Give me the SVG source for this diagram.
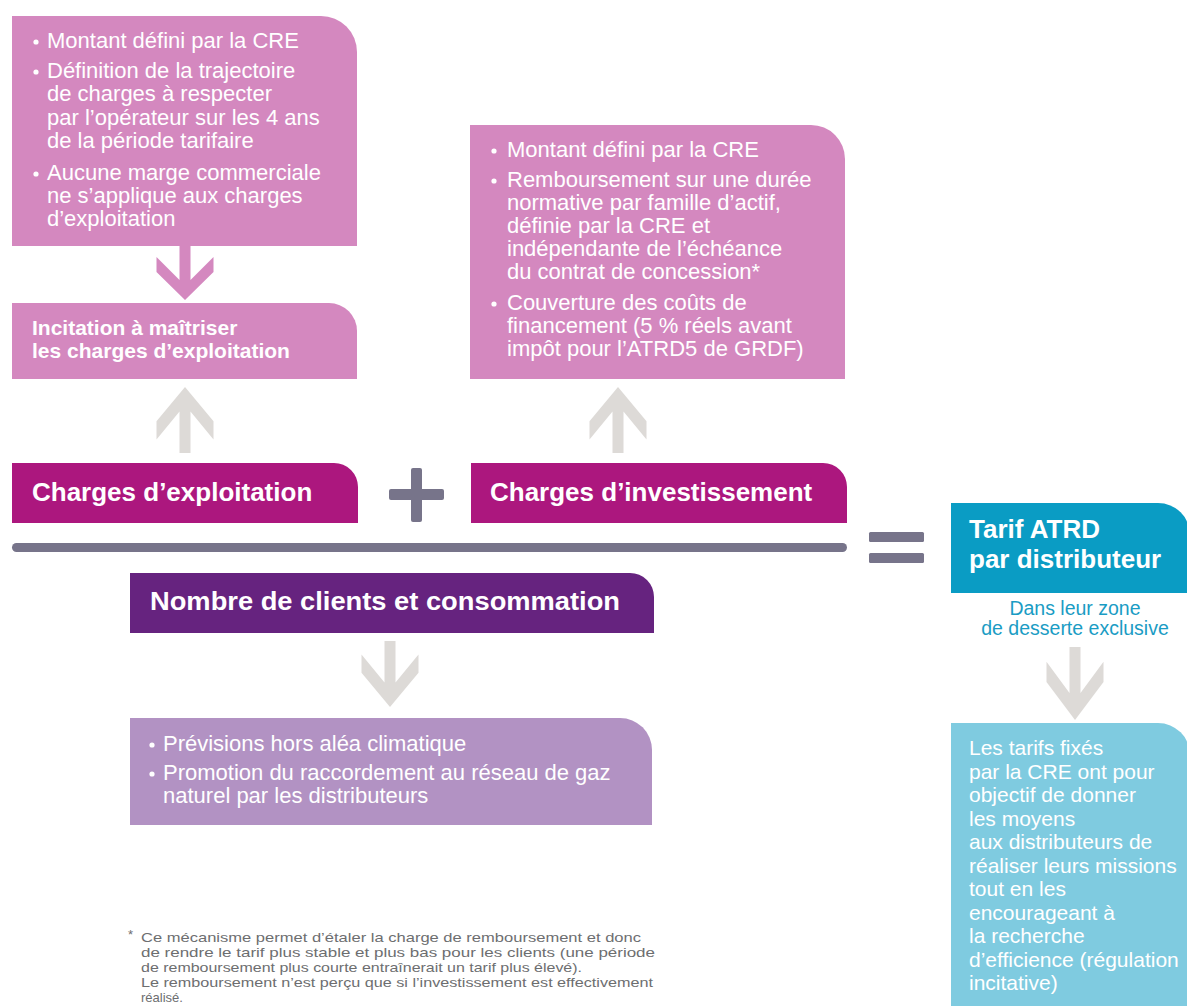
<svg xmlns="http://www.w3.org/2000/svg" width="1187" height="1006" viewBox="0 0 1187 1006">
<style>
text{font-family:"Liberation Sans",Arial,sans-serif;}
.w{fill:#ffffff;}
.body{font-size:22px;fill:#ffffff;}
.title{font-size:26px;font-weight:bold;fill:#ffffff;}
.pink{fill:#D488BF;}
.mag{fill:#AC177E;}
.grey{fill:#DDDAD7;}
.op{fill:#77748A;}
.foot{font-size:13px;fill:#6D6E70;}
</style>
<defs>
<polygon id="arrowDown" points="-5.5,0 5.5,0 5.5,34 28.5,11 28.5,26 0,54 -28.5,26 -28.5,11 -5.5,34"/>
</defs>
<rect width="1187" height="1006" fill="#ffffff"/>

<g id="connectors">
<use href="#arrowDown" class="pink" x="185" y="246"/>
<use href="#arrowDown" class="grey" transform="translate(185,453) scale(1,-1.22)"/>
<use href="#arrowDown" class="grey" transform="translate(618,453) scale(1,-1.22)"/>
<use href="#arrowDown" class="grey" transform="translate(390,641) scale(1,1.22)"/>
<use href="#arrowDown" class="grey" transform="translate(1075,647) scale(1,1.35)"/>
<g id="plus" class="op">
<rect x="389" y="489" width="55" height="11" rx="2"/>
<rect x="411" y="468" width="11" height="54" rx="2"/>
</g>
<rect id="bar" class="op" x="12" y="543" width="835" height="9" rx="4.5"/>
<g id="equals" class="op">
<rect x="869" y="532" width="55" height="10" rx="1.5"/>
<rect x="869" y="553" width="55" height="10" rx="1.5"/>
</g>
</g>

<g id="exploitation-details">
<path class="pink" d="M12,16 H321 A36,36 0 0 1 357,52 V246 H12 Z"/>
<circle class="w" cx="36" cy="42" r="2.6"/>
<circle class="w" cx="36" cy="72" r="2.6"/>
<circle class="w" cx="36" cy="174" r="2.6"/>
<text class="body" x="47" y="48">Montant défini par la CRE</text>
<text class="body" x="47" y="78">Définition de la trajectoire</text>
<text class="body" x="47" y="101">de charges à respecter</text>
<text class="body" x="47" y="124.5">par l’opérateur sur les 4 ans</text>
<text class="body" x="47" y="148">de la période tarifaire</text>
<text class="body" x="47" y="180">Aucune marge commerciale</text>
<text class="body" x="47" y="203">ne s’applique aux charges</text>
<text class="body" x="47" y="226">d’exploitation</text>
</g>

<g id="incitation">
<path class="pink" d="M12,303 H329 A28,28 0 0 1 357,331 V379 H12 Z"/>
<text x="32" y="335" font-size="21" font-weight="bold" fill="#ffffff">Incitation à maîtriser</text>
<text x="32" y="358" font-size="21" font-weight="bold" fill="#ffffff">les charges d’exploitation</text>
</g>

<g id="investissement-details">
<path class="pink" d="M470,125 H811 A34,34 0 0 1 845,159 V379 H470 Z"/>
<circle class="w" cx="494" cy="151" r="2.6"/>
<circle class="w" cx="494" cy="181" r="2.6"/>
<circle class="w" cx="494" cy="304" r="2.6"/>
<text class="body" x="507" y="157">Montant défini par la CRE</text>
<text class="body" x="507" y="187">Remboursement sur une durée</text>
<text class="body" x="507" y="210">normative par famille d’actif,</text>
<text class="body" x="507" y="233">définie par la CRE et</text>
<text class="body" x="507" y="256">indépendante de l’échéance</text>
<text class="body" x="507" y="279">du contrat de concession*</text>
<text class="body" x="507" y="310">Couverture des coûts de</text>
<text class="body" x="507" y="333">financement (5 % réels avant</text>
<text class="body" x="507" y="356">impôt pour l’ATRD5 de GRDF)</text>
</g>

<g id="charges-exploitation">
<path class="mag" d="M12,463 H334 A24,24 0 0 1 358,487 V523 H12 Z"/>
<text class="title" x="32" y="501">Charges d’exploitation</text>
</g>

<g id="charges-investissement">
<path class="mag" d="M471,463 H823 A24,24 0 0 1 847,487 V523 H471 Z"/>
<text class="title" x="490" y="501">Charges d’investissement</text>
</g>

<g id="nombre-clients">
<path fill="#66237F" d="M130,573 H630 A24,24 0 0 1 654,597 V633 H130 Z"/>
<text class="title" x="150" y="610" font-size="27.5" textLength="470" lengthAdjust="spacingAndGlyphs">Nombre de clients et consommation</text>
</g>

<g id="previsions">
<path fill="#B292C3" d="M130,718 H620 A32,32 0 0 1 652,750 V825 H130 Z"/>
<circle class="w" cx="152" cy="745" r="2.6"/>
<circle class="w" cx="152" cy="774" r="2.6"/>
<text class="body" x="163" y="751">Prévisions hors aléa climatique</text>
<text class="body" x="163" y="780">Promotion du raccordement au réseau de gaz</text>
<text class="body" x="163" y="803">naturel par les distributeurs</text>
</g>

<g id="tarif-atrd">
<path fill="#0A9CC4" d="M951,503 H1158 A32,32 0 0 1 1190,535 V593 H951 Z"/>
<text class="title" x="969" y="538">Tarif ATRD</text>
<text class="title" x="969" y="568">par distributeur</text>
</g>

<g id="zone-desserte">
<text x="1075" y="615" font-size="19.5" fill="#1A9CC4" text-anchor="middle">Dans leur zone</text>
<text x="1075" y="635" font-size="19.5" fill="#1A9CC4" text-anchor="middle">de desserte exclusive</text>
</g>

<g id="objectif">
<path fill="#7FCBE0" d="M951,723 H1158 A32,32 0 0 1 1190,755 V1010 H951 Z"/>
<g font-size="21" fill="#ffffff">
<text x="969" y="755">Les tarifs fixés</text>
<text x="969" y="778.5">par la CRE ont pour</text>
<text x="969" y="802">objectif de donner</text>
<text x="969" y="825.5">les moyens</text>
<text x="969" y="849">aux distributeurs de</text>
<text x="969" y="872.5">réaliser leurs missions</text>
<text x="969" y="896">tout en les</text>
<text x="969" y="919.5">encourageant à</text>
<text x="969" y="943">la recherche</text>
<text x="969" y="966.5">d’efficience (régulation</text>
<text x="969" y="990">incitative)</text>
</g>
</g>

<g id="footnote">
<text class="foot" x="128" y="939">*</text>
<text class="foot" x="141" y="942" textLength="500" lengthAdjust="spacingAndGlyphs">Ce mécanisme permet d’étaler la charge de remboursement et donc</text>
<text class="foot" x="141" y="957" textLength="514" lengthAdjust="spacingAndGlyphs">de rendre le tarif plus stable et plus bas pour les clients (une période</text>
<text class="foot" x="141" y="972" textLength="441" lengthAdjust="spacingAndGlyphs">de remboursement plus courte entraînerait un tarif plus élevé).</text>
<text class="foot" x="141" y="987" textLength="512" lengthAdjust="spacingAndGlyphs">Le remboursement n’est perçu que si l’investissement est effectivement</text>
<text class="foot" x="141" y="1002">réalisé.</text>
</g>
</svg>
